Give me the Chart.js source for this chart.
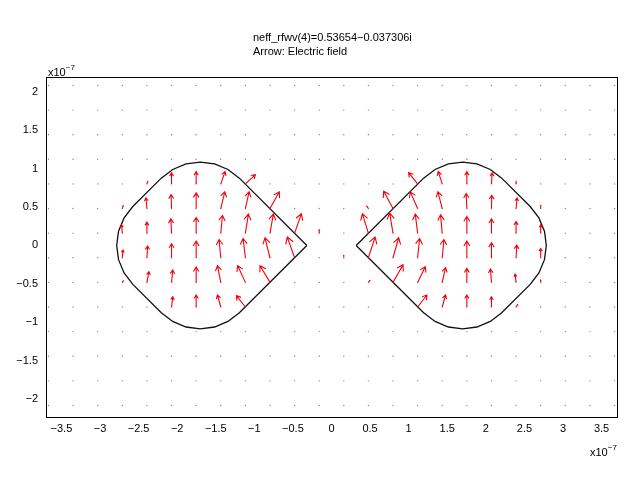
<!DOCTYPE html>
<html>
<head>
<meta charset="utf-8">
<script src="https://cdn.jsdelivr.net/npm/chart.js@4"></script>
<style>
  body { margin: 0; background: #fff; }
  canvas { display: block; }
</style>
</head>
<body>
<canvas id="quiver" width="640" height="480"></canvas>
<script>
// all coordinates in units of 1e-7 m
const titleLines = ['neff_rfwv(4)=0.53654\u22120.037306i', 'Arrow: Electric field'];
const xTickValues = [-3.5, -3, -2.5, -2, -1.5, -1, -0.5, 0, 0.5, 1, 1.5, 2, 2.5, 3, 3.5];
const yTickValues = [-2, -1.5, -1, -0.5, 0, 0.5, 1, 1.5, 2];
const xLimits = [-3.7, 3.7];
const yLimits = [-2.23, 2.19];

// arrow grid (tiny arrows show as dots)
const gridX = [-3.668, -3.349, -3.030, -2.711, -2.392, -2.073, -1.754, -1.435, -1.116, -0.797, -0.478, -0.159,
               0.159, 0.478, 0.797, 1.116, 1.435, 1.754, 2.073, 2.392, 2.711, 3.030, 3.349, 3.668];
const gridY = [-2.08, -1.76, -1.44, -1.12, -0.80, -0.48, -0.16, 0.16, 0.48, 0.80, 1.12, 1.44, 1.76, 2.08];

// visible arrows: tail position and vector
const arrowX = [
  -2.073, -1.754, -1.435, -1.116,
  -2.392, -2.073, -1.754, -1.435, -1.116, -0.797,
  -2.711, -2.392, -2.073, -1.754, -1.435, -1.116, -0.797, -0.478,
  -2.711, -2.392, -2.073, -1.754, -1.435, -1.116, -0.797, -0.478,
  -2.392, -2.073, -1.754, -1.435, -1.116, -0.797,
  -2.073, -1.754, -1.435, -1.116,
  1.116, 1.435, 1.754, 2.073,
  0.797, 1.116, 1.435, 1.754, 2.073, 2.392,
  0.478, 0.797, 1.116, 1.435, 1.754, 2.073, 2.392, 2.711,
  0.478, 0.797, 1.116, 1.435, 1.754, 2.073, 2.392, 2.711,
  0.797, 1.116, 1.435, 1.754, 2.073, 2.392,
  1.116, 1.435, 1.754, 2.073,
  // weak arrows near the particle edges
  -2.711, -2.392, -0.159, -2.711, 0.478, 0.478, 2.392, 2.711, 2.711, 2.392, 0.159
];
const arrowY = [
  0.80, 0.80, 0.80, 0.80,
  0.48, 0.48, 0.48, 0.48, 0.48, 0.48,
  0.16, 0.16, 0.16, 0.16, 0.16, 0.16, 0.16, 0.16,
  -0.16, -0.16, -0.16, -0.16, -0.16, -0.16, -0.16, -0.16,
  -0.48, -0.48, -0.48, -0.48, -0.48, -0.48,
  -0.80, -0.80, -0.80, -0.80,
  0.80, 0.80, 0.80, 0.80,
  0.48, 0.48, 0.48, 0.48, 0.48, 0.48,
  0.16, 0.16, 0.16, 0.16, 0.16, 0.16, 0.16, 0.16,
  -0.16, -0.16, -0.16, -0.16, -0.16, -0.16, -0.16, -0.16,
  -0.48, -0.48, -0.48, -0.48, -0.48, -0.48,
  -0.80, -0.80, -0.80, -0.80,
  0.48, 0.80, 0.16, -0.48, 0.48, -0.48, 0.80, 0.48, -0.48, -0.80, -0.16
];
const arrowU = [
  0, 0, 0.056, 0.130,
  -0.013, -0.006, 0, 0.052, 0.048, 0.121,
  -0.009, 0, -0.009, 0, 0.022, 0.039, 0.043, 0.087,
  0.009, 0.009, 0, 0, -0.022, -0.030, -0.065, -0.095,
  0.026, 0.017, 0, -0.043, -0.100, -0.130,
  0.017, 0, -0.043, -0.117,
  -0.117, -0.052, 0, 0.009,
  -0.121, -0.095, -0.056, -0.009, 0.004, 0.013,
  -0.078, -0.043, -0.030, -0.022, 0, 0, 0, 0,
  0.087, 0.074, 0.026, 0.022, 0, 0, 0.009, 0,
  0.130, 0.100, 0.043, 0, -0.013, -0.013,
  0.121, 0.043, 0, 0,
  0.010, 0.010, 0, 0.015, -0.020, 0.020, 0, 0, 0, 0.020, 0
];
const arrowV = [
  0.143, 0.160, 0.160, 0.121,
  0.139, 0.182, 0.204, 0.217, 0.217, 0.217,
  0.108, 0.143, 0.186, 0.204, 0.230, 0.247, 0.247, 0.251,
  0.100, 0.152, 0.182, 0.217, 0.238, 0.251, 0.260, 0.269,
  0.139, 0.160, 0.199, 0.217, 0.217, 0.217,
  0.134, 0.156, 0.156, 0.147,
  0.147, 0.160, 0.160, 0.143,
  0.225, 0.217, 0.217, 0.195, 0.173, 0.139,
  0.251, 0.260, 0.247, 0.238, 0.217, 0.186, 0.152, 0.108,
  0.269, 0.260, 0.251, 0.238, 0.217, 0.195, 0.165, 0.121,
  0.230, 0.204, 0.191, 0.182, 0.173, 0.108,
  0.156, 0.156, 0.156, 0.134,
  0.035, 0.030, 0.045, 0.020, 0.030, 0.025, 0.030, 0.040, 0.030, 0.030, 0.030
];

// particle outlines
const leftShapeX = [-0.32, -1.194, -1.342, -1.515, -1.700, -1.885, -2.058, -2.206, -2.575, -2.688, -2.760, -2.784,
                    -2.760, -2.688, -2.575, -2.206, -2.058, -1.885, -1.700, -1.515, -1.342, -1.194, -0.32];
const leftShapeY = [0, 0.875, 0.988, 1.060, 1.084, 1.060, 0.988, 0.875, 0.506, 0.358, 0.185, 0,
                    -0.185, -0.358, -0.506, -0.875, -0.988, -1.060, -1.084, -1.060, -0.988, -0.875, 0];
const rightShapeX = [0.32, 1.194, 1.342, 1.515, 1.700, 1.885, 2.058, 2.206, 2.575, 2.688, 2.760, 2.784,
                     2.760, 2.688, 2.575, 2.206, 2.058, 1.885, 1.700, 1.515, 1.342, 1.194, 0.32];
const rightShapeY = [0, 0.875, 0.988, 1.060, 1.084, 1.060, 0.988, 0.875, 0.506, 0.358, 0.185, 0,
                     -0.185, -0.358, -0.506, -0.875, -0.988, -1.060, -1.084, -1.060, -0.988, -0.875, 0];

const fontFamily = '"Liberation Sans", Arial, sans-serif';
const fmt = v => (v < 0 ? '\u2212' : '') + Math.abs(v);

const gridPoints = [];
gridX.forEach(gx => gridY.forEach(gy => gridPoints.push({ x: gx, y: gy })));
const toPoints = (xs, ys) => xs.map((v, i) => ({ x: v, y: ys[i] }));

// box around the plot area
const framePlugin = {
  id: 'frame',
  afterDraw(chart) {
    const { ctx, chartArea: a } = chart;
    ctx.save();
    ctx.strokeStyle = '#000';
    ctx.lineWidth = 1;
    ctx.strokeRect(a.left + 0.5, a.top + 0.5, a.right - a.left, a.bottom - a.top);
    ctx.restore();
  }
};

// quiver arrows
const arrowPlugin = {
  id: 'arrows',
  afterDatasetsDraw(chart) {
    const { ctx, scales: { x, y }, chartArea: a } = chart;
    ctx.save();
    ctx.beginPath();
    ctx.rect(a.left, a.top, a.right - a.left, a.bottom - a.top);
    ctx.clip();
    ctx.strokeStyle = 'rgb(245,0,10)';
    ctx.lineWidth = 1.1;
    for (let i = 0; i < arrowX.length; i++) {
      const x0 = x.getPixelForValue(arrowX[i]);
      const y0 = y.getPixelForValue(arrowY[i]);
      const x1 = x.getPixelForValue(arrowX[i] + arrowU[i]);
      const y1 = y.getPixelForValue(arrowY[i] + arrowV[i]);
      const ang = Math.atan2(y1 - y0, x1 - x0);
      const head = Math.hypot(x1 - x0, y1 - y0) * 0.34;
      ctx.beginPath();
      ctx.moveTo(x0, y0);
      ctx.lineTo(x1, y1);
      ctx.moveTo(x1 - head * Math.cos(ang - 0.55), y1 - head * Math.sin(ang - 0.55));
      ctx.lineTo(x1, y1);
      ctx.lineTo(x1 - head * Math.cos(ang + 0.55), y1 - head * Math.sin(ang + 0.55));
      ctx.stroke();
    }
    ctx.restore();
  }
};

// title lines and the x10^-7 multipliers
const textPlugin = {
  id: 'texts',
  afterDraw(chart) {
    const { ctx, chartArea: a } = chart;
    ctx.save();
    ctx.fillStyle = '#000';
    ctx.textBaseline = 'middle';
    ctx.textAlign = 'left';
    ctx.font = '11px ' + fontFamily;
    ctx.fillText(titleLines[0], 253, 38);
    ctx.fillText(titleLines[1], 253, 52);

    const multiplier = (x, y) => {
      ctx.font = '11px ' + fontFamily;
      ctx.fillText('x10', x, y);
      const w = ctx.measureText('x10').width;
      ctx.font = '8px ' + fontFamily;
      ctx.fillText('\u22127', x + w, y - 5);
    };
    multiplier(a.left + 2, a.top - 4);
    multiplier(a.right - 27, 453);
    ctx.restore();
  }
};

new Chart(document.getElementById('quiver'), {
  type: 'scatter',
  data: {
    datasets: [
      {
        label: 'grid',
        data: gridPoints,
        pointRadius: 0.7,
        pointBackgroundColor: 'rgba(130,60,80,0.7)',
        pointBorderWidth: 0
      },
      {
        label: 'left particle',
        data: toPoints(leftShapeX, leftShapeY),
        showLine: true,
        pointRadius: 0,
        borderColor: '#111',
        borderWidth: 1.3,
        tension: 0
      },
      {
        label: 'right particle',
        data: toPoints(rightShapeX, rightShapeY),
        showLine: true,
        pointRadius: 0,
        borderColor: '#111',
        borderWidth: 1.3,
        tension: 0
      }
    ]
  },
  options: {
    responsive: false,
    animation: false,
    events: [],
    layout: { padding: { top: 77, right: 23, left: 0, bottom: 0 } },
    plugins: {
      legend: { display: false },
      tooltip: { enabled: false },
      title: { display: false }
    },
    scales: {
      x: {
        type: 'linear',
        min: xLimits[0],
        max: xLimits[1],
        afterBuildTicks: s => { s.ticks = xTickValues.map(v => ({ value: v })); },
        afterFit: s => { s.height = 63; },
        grid: { display: false, drawTicks: false },
        border: { display: false },
        ticks: {
          padding: 5,
          color: '#000',
          font: { family: fontFamily, size: 11 },
          maxRotation: 0,
          autoSkip: false,
          callback: v => fmt(v)
        }
      },
      y: {
        type: 'linear',
        min: yLimits[0],
        max: yLimits[1],
        afterBuildTicks: s => { s.ticks = yTickValues.map(v => ({ value: v })); },
        afterFit: s => { s.width = 46; },
        grid: { display: false, drawTicks: false },
        border: { display: false },
        ticks: {
          padding: 8,
          color: '#000',
          font: { family: fontFamily, size: 11 },
          autoSkip: false,
          callback: v => fmt(v)
        }
      }
    }
  },
  plugins: [framePlugin, arrowPlugin, textPlugin]
});
</script>
</body>
</html>
